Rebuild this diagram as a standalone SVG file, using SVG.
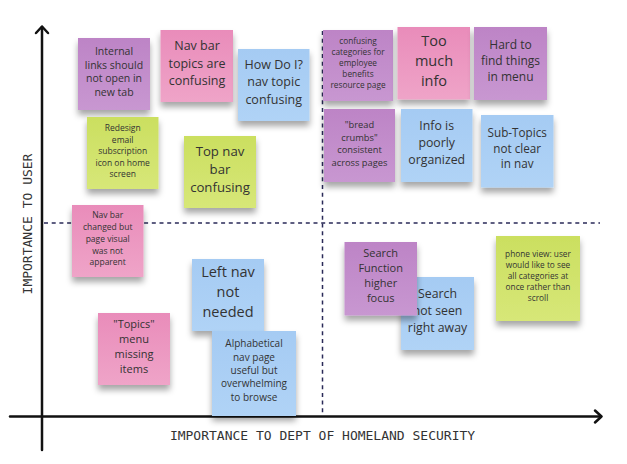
<svg xmlns="http://www.w3.org/2000/svg" width="627" height="464" viewBox="0 0 627 464">
<defs>
<filter id="sh" x="-20%" y="-20%" width="140%" height="150%">
<feDropShadow dx="0" dy="5" stdDeviation="3" flood-color="#000" flood-opacity="0.35"/>
</filter>
<linearGradient id="gP" x1="0" y1="0" x2="0" y2="1"><stop offset="0" stop-color="#bd84c6"/><stop offset="1" stop-color="#c897d1"/></linearGradient>
<linearGradient id="gK" x1="0" y1="0" x2="0" y2="1"><stop offset="0" stop-color="#e98cba"/><stop offset="1" stop-color="#efa4c8"/></linearGradient>
<linearGradient id="gB" x1="0" y1="0" x2="0" y2="1"><stop offset="0" stop-color="#a5cbf3"/><stop offset="1" stop-color="#b0d3f6"/></linearGradient>
<linearGradient id="gG" x1="0" y1="0" x2="0" y2="1"><stop offset="0" stop-color="#cbdf60"/><stop offset="1" stop-color="#d7e778"/></linearGradient>
</defs>
<style>
.n{filter:url(#sh)}
.p{fill:url(#gP)}
.k{fill:url(#gK)}
.b{fill:url(#gB)}
.g{fill:url(#gG)}
.t{font-family:"Open Sans","Noto Sans",sans-serif;fill:#333;text-anchor:middle}
.ax{stroke:#111;stroke-width:2.5;fill:none;stroke-linecap:round;stroke-linejoin:round}
.ds{stroke:#2a2a58;stroke-width:1.5;stroke-dasharray:4 3.7;fill:none}
.lbl{font-family:"DejaVu Sans Mono","Liberation Mono",monospace;font-size:13px;fill:#333}
</style>
<rect width="627" height="464" fill="#fff"/>

<g id="connectors">
<g id="axes">
<line class="ax" x1="42" y1="27" x2="42" y2="450"/>
<polyline class="ax" points="36,33 42,26.5 48,33"/>
<line class="ax" x1="10" y1="416.5" x2="601" y2="416.5"/>
<polyline class="ax" points="595,410.5 601.5,416.5 595,422.5"/>
</g>
<g id="dividers">
<line class="ds" x1="44" y1="223" x2="600" y2="223"/>
<line class="ds" x1="322.5" y1="31" x2="322.5" y2="415"/>
</g>
</g>

<text class="lbl" transform="translate(31.5,224) rotate(-90)" text-anchor="middle">IMPORTANCE TO USER</text>
<text class="lbl" x="322.5" y="440" text-anchor="middle">IMPORTANCE TO DEPT OF HOMELAND SECURITY</text>

<g id="n1"><rect class="n p" x="78" y="38" width="72" height="72"/>
<text class="t" font-size="10.5"><tspan x="114" y="55">Internal</tspan><tspan x="114" dy="13.7">links should</tspan><tspan x="114" dy="13.7">not open in</tspan><tspan x="114" dy="13.7">new tab</tspan></text></g>

<g id="n2"><rect class="n k" x="160.5" y="30" width="72.5" height="72"/>
<text class="t" font-size="12.5"><tspan x="197" y="50.4">Nav bar</tspan><tspan x="197" dy="17.3">topics are</tspan><tspan x="197" dy="17.3">confusing</tspan></text></g>

<g id="n3"><rect class="n b" x="238" y="49" width="71.5" height="72"/>
<text class="t" font-size="12.5"><tspan x="273.7" y="68.8">How Do I?</tspan><tspan x="273.7" dy="17.5">nav topic</tspan><tspan x="273.7" dy="17.5">confusing</tspan></text></g>

<g id="n4"><rect class="n g" x="87" y="117" width="71.5" height="72"/>
<text class="t" font-size="8.5"><tspan x="122.7" y="131">Redesign</tspan><tspan x="122.7" dy="11.6">email</tspan><tspan x="122.7" dy="11.6">subscription</tspan><tspan x="122.7" dy="11.6">icon on home</tspan><tspan x="122.7" dy="11.6">screen</tspan></text></g>

<g id="n5"><rect class="n g" x="184" y="136" width="72" height="72"/>
<text class="t" font-size="13.2"><tspan x="220" y="156.3">Top nav</tspan><tspan x="220" dy="17.7">bar</tspan><tspan x="220" dy="17.7">confusing</tspan></text></g>

<g id="n6"><rect class="n k" x="72" y="205" width="71.5" height="72"/>
<text class="t" font-size="8.5"><tspan x="107.7" y="218.3">Nav bar</tspan><tspan x="107.7" dy="11.75">changed but</tspan><tspan x="107.7" dy="11.75">page visual</tspan><tspan x="107.7" dy="11.75">was not</tspan><tspan x="107.7" dy="11.75">apparent</tspan></text></g>

<g id="n7"><rect class="n b" x="192" y="259" width="72" height="72"/>
<text class="t" font-size="14.5"><tspan x="228" y="277">Left nav</tspan><tspan x="228" dy="20">not</tspan><tspan x="228" dy="20">needed</tspan></text></g>

<g id="n8"><rect class="n k" x="98" y="313" width="72" height="72"/>
<text class="t" font-size="11"><tspan x="134" y="327.6">"Topics"</tspan><tspan x="134" dy="15">menu</tspan><tspan x="134" dy="15">missing</tspan><tspan x="134" dy="15">items</tspan></text></g>

<g id="n9"><rect class="n b" x="212" y="331" width="84" height="85"/>
<text class="t" font-size="10"><tspan x="254" y="347.3">Alphabetical</tspan><tspan x="254" dy="13.35">nav page</tspan><tspan x="254" dy="13.35">useful but</tspan><tspan x="254" dy="13.35">overwhelming</tspan><tspan x="254" dy="13.35">to browse</tspan></text></g>

<g id="n10"><rect class="n p" x="323" y="30" width="70" height="71"/>
<text class="t" font-size="8.3"><tspan x="358" y="44.2">confusing</tspan><tspan x="358" dy="11">categories for</tspan><tspan x="358" dy="11">employee</tspan><tspan x="358" dy="11">benefits</tspan><tspan x="358" dy="11">resource page</tspan></text></g>

<g id="n11"><rect class="n k" x="397.5" y="27" width="72.5" height="72.5"/>
<text class="t" font-size="14.5"><tspan x="434" y="45.6">Too</tspan><tspan x="434" dy="20">much</tspan><tspan x="434" dy="20">info</tspan></text></g>

<g id="n12"><rect class="n p" x="474" y="27" width="73" height="73"/>
<text class="t" font-size="12"><tspan x="510.5" y="49.3">Hard to</tspan><tspan x="510.5" dy="15.8">find things</tspan><tspan x="510.5" dy="15.8">in menu</tspan></text></g>

<g id="n13"><rect class="n p" x="324" y="109" width="71" height="73"/>
<text class="t" font-size="9.3"><tspan x="359.5" y="127.8">"bread</tspan><tspan x="359.5" dy="12.8">crumbs"</tspan><tspan x="359.5" dy="12.8">consistent</tspan><tspan x="359.5" dy="12.8">across pages</tspan></text></g>

<g id="n14"><rect class="n b" x="401" y="109" width="71.5" height="73"/>
<text class="t" font-size="12.3"><tspan x="436.7" y="130.4">Info is</tspan><tspan x="436.7" dy="17">poorly</tspan><tspan x="436.7" dy="17">organized</tspan></text></g>

<g id="n15"><rect class="n b" x="481" y="115" width="72.5" height="72.5"/>
<text class="t" font-size="11.7"><tspan x="517.2" y="136.8">Sub-Topics</tspan><tspan x="517.2" dy="15.8">not clear</tspan><tspan x="517.2" dy="15.8">in nav</tspan></text></g>

<g id="n17"><rect class="n b" x="401" y="277" width="73" height="73"/>
<text class="t" font-size="12.3"><tspan x="437.5" y="297.7">Search</tspan><tspan x="437.5" dy="17.2">not seen</tspan><tspan x="437.5" dy="17.2">right away</tspan></text></g>

<g id="n16"><rect class="n p" x="344.5" y="242" width="72.5" height="73.5"/>
<text class="t" font-size="11"><tspan x="380.7" y="257.3">Search</tspan><tspan x="380.7" dy="15">Function</tspan><tspan x="380.7" dy="15">higher</tspan><tspan x="380.7" dy="15">focus</tspan></text></g>

<g id="n18"><rect class="n g" x="496" y="236" width="84" height="85"/>
<text class="t" font-size="8.3"><tspan x="538" y="256.5">phone view: user</tspan><tspan x="538" dy="11.2">would like to see</tspan><tspan x="538" dy="11.2">all categories at</tspan><tspan x="538" dy="11.2">once rather than</tspan><tspan x="538" dy="11.2">scroll</tspan></text></g>
</svg>
